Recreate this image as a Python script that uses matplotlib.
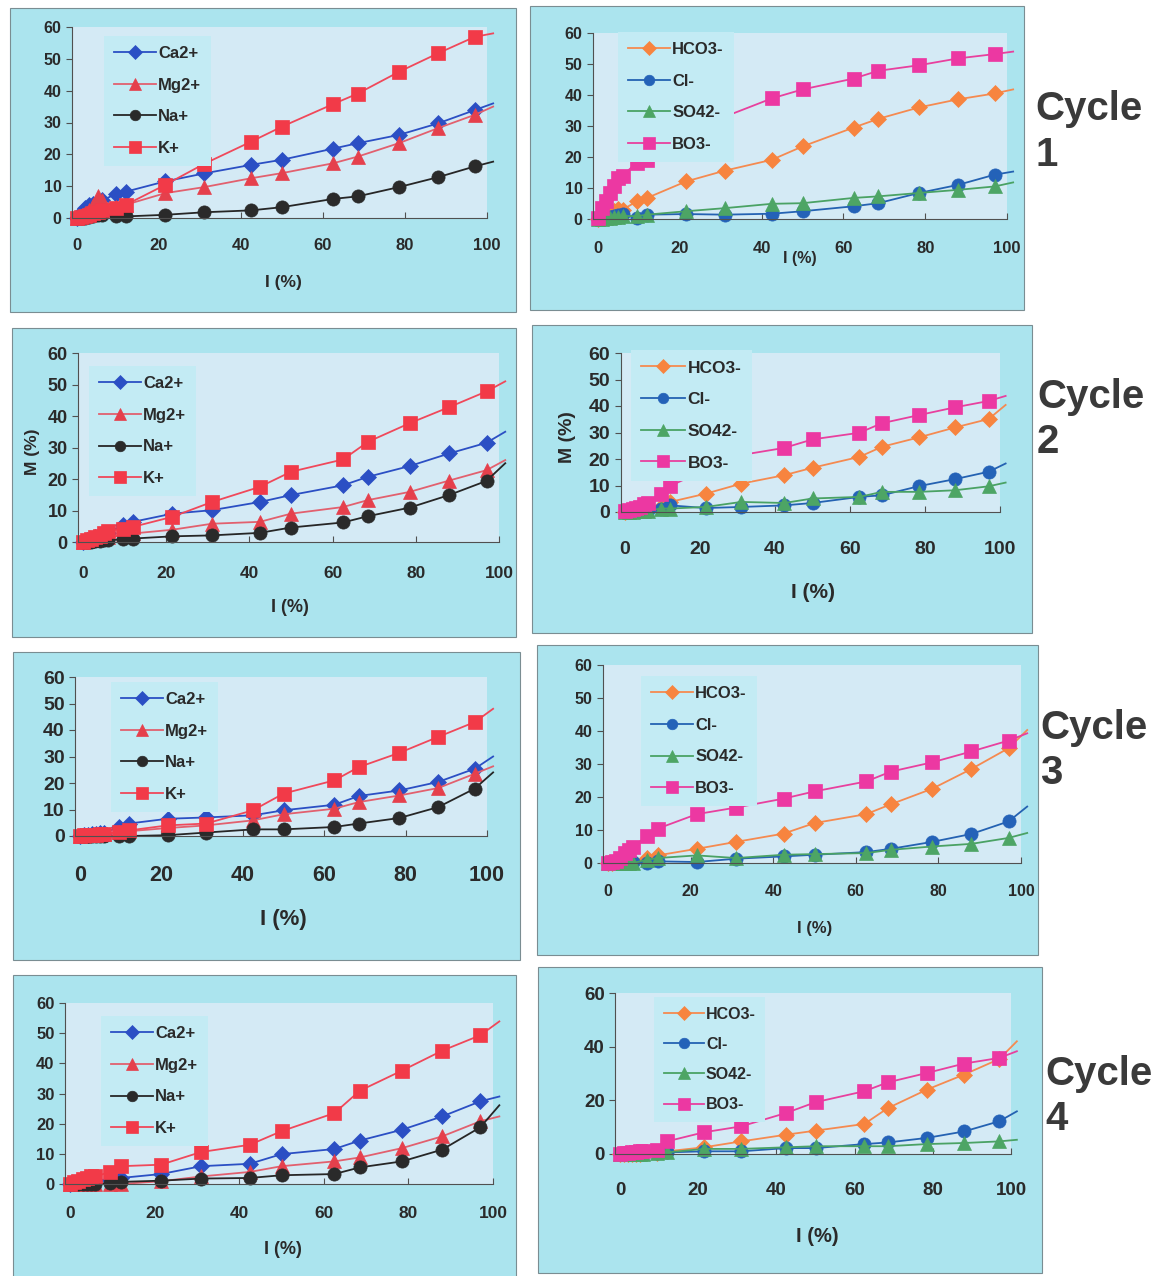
import matplotlib
matplotlib.use("Agg")
import matplotlib.pyplot as plt
from matplotlib.patches import Rectangle

plt.rcParams['font.family'] = ['Liberation Sans', 'DejaVu Sans']

W, H = 1161, 1276

# sampling points of I (%) (last value only continues the line, no marker)
I_pct = [0, 1, 2, 3, 4, 5, 6, 9.5, 12, 21.5, 31, 42.5, 50, 62.5, 68.5, 78.5, 88, 97, 101.5]

cation_names = ["Ca2+", "Mg2+", "Na+", "K+"]
anion_names = ["HCO3-", "Cl-", "SO42-", "BO3-"]

# ---- Cycle 1 ----
c1_ca = [0, 1.5, 3, 4, 4.5, 5, 5.5, 7.5, 8.3, 11.5, 14.0, 16.7, 18.3, 21.8, 23.5, 26.1, 29.7, 33.9, 36.0]
c1_mg = [0, 0.5, 1.5, 2.5, 4, 7, 5.5, 3.5, 4.2, 7.8, 9.7, 12.5, 14.1, 17.2, 19.3, 23.5, 28.2, 32.4, 35.0]
c1_na = [0, 0, 0, 0.3, 0.5, 0.8, 1, 0.5, 0.5, 1.0, 1.8, 2.4, 3.4, 6.0, 6.8, 9.7, 12.8, 16.2, 17.7]
c1_k = [0, 0.3, 0.6, 1, 1.5, 2, 2.5, 3.1, 4.2, 10.4, 17.0, 24.0, 28.7, 35.8, 39.1, 45.9, 51.7, 56.9, 58.0]
c1_hco3 = [0, 0.5, 1, 2, 2.5, 3.2, 3, 5.7, 6.8, 12.1, 15.6, 19.1, 23.4, 29.5, 32.3, 36.0, 38.6, 40.5, 41.8]
c1_cl = [0, 0.3, 0.5, 0.8, 1, 1.2, 1.5, 0.3, 1.4, 1.6, 1.4, 1.7, 2.5, 4.1, 5.1, 8.4, 11.0, 14.3, 15.3]
c1_so4 = [0, 0, 0.2, 0.4, 0.5, 0.8, 1, 0.9, 1.4, 2.5, 3.5, 4.9, 5.1, 6.8, 7.3, 8.4, 9.4, 10.5, 11.8]
c1_bo3 = [0.3, 3.5, 5.7, 8.4, 10.6, 13.2, 14, 18.2, 19, 27, 33.0, 38.9, 41.8, 45.3, 47.8, 49.6, 51.8, 53.2, 54.0]

# ---- Cycle 2 ----
c2_ca = [0, 0.5, 1, 1.5, 2, 2.5, 3, 5.3, 6.4, 9.0, 10.1, 12.7, 14.9, 18.0, 20.7, 24.1, 28.1, 31.5, 35.0]
c2_mg = [0, 0.2, 0.5, 0.8, 1, 1.3, 1.5, 2.1, 2.7, 3.9, 5.8, 6.4, 9.0, 11.1, 13.3, 15.9, 19.5, 22.8, 26.0]
c2_na = [0, 0, 0, 0.2, 0.3, 0.5, 0.6, 0.8, 1.1, 1.8, 2.1, 2.9, 4.6, 6.2, 8.2, 10.9, 14.9, 19.4, 25.0]
c2_k = [0, 0.5, 1, 1.5, 2, 2.7, 3.5, 4.2, 4.8, 8.0, 12.7, 17.5, 22.3, 26.2, 31.8, 37.7, 42.8, 47.8, 51.0]
c2_hco3 = [0, 0.2, 0.4, 0.6, 0.8, 1, 1.2, 2, 3.8, 6.9, 10.7, 13.9, 16.7, 20.8, 24.6, 28.2, 31.9, 35.1, 40.4]
c2_cl = [0, 0, 0.2, 0.3, 0.4, 0.5, 0.6, 1.3, 2.5, 1.5, 1.9, 2.5, 3.4, 5.7, 6.3, 9.8, 12.4, 15.2, 18.3]
c2_so4 = [0, 0, 0.1, 0.2, 0.3, 0.4, 0.5, 1.3, 1.3, 1.9, 3.8, 3.4, 5.1, 5.7, 7.6, 7.6, 8.2, 9.7, 11.1]
c2_bo3 = [0.5, 0.8, 1, 1.5, 2, 3.2, 3.5, 6.9, 9.8, 16, 21.5, 24.2, 27.4, 29.9, 33.5, 36.6, 39.5, 41.9, 43.8]

# ---- Cycle 3 ----
c3_ca = [0, 0.2, 0.4, 0.6, 0.8, 1, 1.2, 3.4, 4.7, 6.5, 7.0, 7.8, 9.7, 11.8, 15.1, 17.2, 20.4, 25.4, 30.0]
c3_mg = [0, 0.1, 0.2, 0.3, 0.4, 0.5, 0.6, 1.5, 1.8, 3.0, 4.0, 5.9, 8.2, 10.3, 12.8, 15.3, 18.1, 23.5, 26.3]
c3_na = [0, 0, 0, 0, 0, 0, 0, 0, 0, 0.3, 1.3, 2.5, 2.5, 3.4, 4.7, 6.8, 10.9, 17.9, 24.0]
c3_k = [0, 0.2, 0.3, 0.4, 0.5, 0.6, 0.7, 1.5, 2.1, 4.0, 4.7, 9.7, 16.0, 21.0, 26.0, 31.4, 37.4, 43.0, 48.0]
c3_hco3 = [0, 0.1, 0.2, 0.3, 0.4, 0.5, 0.6, 1.5, 2.3, 4.3, 6.4, 8.9, 12.1, 14.8, 17.8, 22.5, 28.5, 34.8, 40.3]
c3_cl = [0, 0, 0, 0, 0, 0.2, 0.3, 0, 0.5, 0.3, 1.3, 2.0, 2.5, 3.3, 4.3, 6.4, 8.8, 12.6, 17.1]
c3_so4 = [0, 0, 0, 0, 0, 0, 0, 1.0, 1.5, 2.3, 1.5, 2.5, 2.7, 3.0, 4.0, 5.0, 5.8, 7.6, 9.1]
c3_bo3 = [0, 0.3, 0.6, 1.5, 3.0, 4.0, 5.0, 8.1, 10.4, 14.8, 16.8, 19.5, 21.7, 24.7, 27.7, 30.5, 33.8, 37.1, 39.3]

# ---- Cycle 4 ----
c4_ca = [0, 0.2, 0.4, 0.6, 0.8, 1, 1.2, 1.4, 2.0, 3.3, 5.9, 6.7, 9.9, 11.6, 14.4, 18.0, 22.4, 27.4, 29.0]
c4_mg = [0, 0, 0, 0, 0, 0, 0, 0, 0, 0.9, 2.5, 4.0, 5.9, 7.5, 8.8, 11.9, 15.8, 20.8, 22.4]
c4_na = [0, 0, 0, 0, 0, 0, 0, 0.3, 0.7, 1.1, 1.8, 2.0, 2.9, 3.3, 5.5, 7.5, 11.4, 18.8, 26.1]
c4_k = [0, 0.5, 1, 1.5, 2, 2.5, 2.5, 4.0, 5.9, 6.4, 10.6, 13.0, 17.5, 23.5, 30.9, 37.6, 44.2, 49.3, 53.9]
c4_hco3 = [0, 0, 0, 0, 0, 0, 0.2, 0.5, 1.0, 2.5, 4.7, 7.2, 8.7, 11.2, 17.1, 24.0, 29.6, 35.4, 42.0]
c4_cl = [0, 0, 0, 0, 0, 0, 0, 0.3, 0.6, 1.0, 1.0, 2.2, 2.2, 3.7, 4.3, 6.0, 8.4, 12.2, 15.9]
c4_so4 = [0, 0, 0, 0, 0, 0, 0, 0.3, 0.6, 1.9, 1.9, 2.5, 2.9, 2.9, 2.9, 3.7, 4.1, 4.7, 5.3]
c4_bo3 = [0, 0.2, 0.4, 0.6, 0.8, 1.0, 1.2, 1.6, 4.7, 8.1, 10.3, 15.3, 19.3, 23.4, 26.7, 30.2, 33.7, 35.8, 38.3]

cycle_labels = ["Cycle\n1", "Cycle\n2", "Cycle\n3", "Cycle\n4"]

# marker / colour style per ion
cation_style = [
    dict(marker='D', color='#2b4fc4', mfc='#2b4fc4', ms=8.5),
    dict(marker='^', color='#e2606e', mfc='#e5404c', ms=10),
    dict(marker='o', color='#262626', mfc='#2a2a2a', ms=9.5),
    dict(marker='s', color='#f0485a', mfc='#f23a48', ms=10),
]
anion_style = [
    dict(marker='D', color='#f58a50', mfc='#f7843f', ms=8.5),
    dict(marker='o', color='#2462b2', mfc='#2462b8', ms=9.5),
    dict(marker='^', color='#4aa264', mfc='#4da565', ms=10),
    dict(marker='s', color='#e8409e', mfc='#ec38a2', ms=10),
]

OUTER = '#abe4ee'
PLOT_BG = '#d4eaf5'
LEG_BG = '#c3ebf4'
TXT = '#2a2a2a'

# panel geometry in pixels: frame box, data-axis pixels, font sizes, legend anchor
panels = [
    dict(frame=(10, 8, 516, 312), x0=77, x100=487, y0=218, y60=27,
         names=cation_names, style=cation_style, data=[c1_ca, c1_mg, c1_na, c1_k],
         tfs=11.5, xtfs=12, lfs=12, xl=dict(x=283, y=283, fs=12.5), yl=None,
         leg=(104, 36), ls=1.0, yt=[0, 10, 20, 30, 40, 50, 60], xpad=14.5),
    dict(frame=(530, 6, 1024, 310), x0=598, x100=1007, y0=219, y60=33,
         names=anion_names, style=anion_style, data=[c1_hco3, c1_cl, c1_so4, c1_bo3],
         tfs=11.5, xtfs=12, lfs=12, xl=dict(x=800, y=259, fs=11.5), yl=None,
         leg=(618, 32), ls=1.0, yt=[0, 10, 20, 30, 40, 50, 60], xpad=16),
    dict(frame=(12, 328, 516, 637), x0=83, x100=499, y0=542, y60=353,
         names=cation_names, style=cation_style, data=[c2_ca, c2_mg, c2_na, c2_k],
         tfs=13, xtfs=12.5, lfs=12, xl=dict(x=290, y=608, fs=13), yl=dict(x=33, y=452, fs=12.5),
         leg=(89, 366), ls=1.0, yt=[0, 10, 20, 30, 40, 50, 60], xpad=17),
    dict(frame=(532, 325, 1032, 633), x0=625, x100=1000, y0=512, y60=353,
         names=anion_names, style=anion_style, data=[c2_hco3, c2_cl, c2_so4, c2_bo3],
         tfs=14, xtfs=14, lfs=12.5, xl=dict(x=813, y=593, fs=15), yl=dict(x=568, y=437, fs=14),
         leg=(631, 350), ls=0.95, yt=[0, 10, 20, 30, 40, 50, 60], xpad=21),
    dict(frame=(13, 652, 520, 960), x0=80, x100=487, y0=836, y60=677,
         names=cation_names, style=cation_style, data=[c3_ca, c3_mg, c3_na, c3_k],
         tfs=14, xtfs=15.5, lfs=12, xl=dict(x=283, y=920, fs=16), yl=None,
         leg=(111, 682), ls=1.0, yt=[0, 10, 20, 30, 40, 50, 60], xpad=21),
    dict(frame=(537, 645, 1038, 955), x0=608, x100=1021, y0=863, y60=665,
         names=anion_names, style=anion_style, data=[c3_hco3, c3_cl, c3_so4, c3_bo3],
         tfs=11.5, xtfs=11.5, lfs=12, xl=dict(x=815, y=928, fs=12), yl=None,
         leg=(641, 676), ls=1.0, yt=[0, 10, 20, 30, 40, 50, 60], xpad=15),
    dict(frame=(13, 975, 516, 1290), x0=70, x100=493, y0=1184, y60=1003,
         names=cation_names, style=cation_style, data=[c4_ca, c4_mg, c4_na, c4_k],
         tfs=12, xtfs=12.5, lfs=12, xl=dict(x=283, y=1250, fs=13), yl=None,
         leg=(101, 1016), ls=1.0, yt=[0, 10, 20, 30, 40, 50, 60], xpad=15.5),
    dict(frame=(538, 967, 1042, 1273), x0=620, x100=1011, y0=1154, y60=993,
         names=anion_names, style=anion_style, data=[c4_hco3, c4_cl, c4_so4, c4_bo3],
         tfs=13.5, xtfs=13.5, lfs=11.5, xl=dict(x=817, y=1237, fs=14.5), yl=None,
         leg=(654, 997), ls=0.95, yt=[0, 20, 40, 60], xpad=20),
]

cycle_pos = [(1035, 90), (1037, 378), (1040, 709), (1045, 1055)]

fig = plt.figure(figsize=(W / 100, H / 100), dpi=100)
fig.patch.set_facecolor('white')


def fx(px):
    return px / W


def fy(py):
    return 1 - py / H


XMIN = -1.2
for p in panels:
    x1, y1, x2, y2 = p['frame']
    fig.patches.append(Rectangle((fx(x1), fy(y2)), fx(x2 - x1), (y2 - y1) / H,
                                 transform=fig.transFigure, facecolor=OUTER,
                                 edgecolor='#7a8d92', linewidth=0.8, zorder=-5))
    sx = (p['x100'] - p['x0']) / 100.0
    left = p['x0'] + XMIN * sx
    ax = fig.add_axes([fx(left), fy(p['y0']), fx(p['x100'] - left), (p['y0'] - p['y60']) / H])
    ax.set_zorder(2)
    ax.set_facecolor(PLOT_BG)
    ax.set_xlim(XMIN, 100)
    ax.set_ylim(0, 60)
    for s in ('top', 'right'):
        ax.spines[s].set_visible(False)
    for s in ('left', 'bottom'):
        ax.spines[s].set_color('#505050')
        ax.spines[s].set_linewidth(0.8)
    ax.set_xticks([0, 20, 40, 60, 80, 100])
    ax.set_yticks(p['yt'])
    ax.tick_params(axis='y', direction='out', length=4, width=0.8, color='#505050',
                   labelsize=p['tfs'], labelcolor=TXT, pad=3.5)
    ax.tick_params(axis='x', direction='in', length=4, width=0.8, color='#505050',
                   labelsize=p['xtfs'], labelcolor=TXT, pad=p['xpad'])
    for lab in ax.get_xticklabels() + ax.get_yticklabels():
        lab.set_fontweight('bold')

    handles = []
    for name, st, vals in zip(p['names'], p['style'], p['data']):
        n = len(vals)
        h, = ax.plot(I_pct, vals, color=st['color'], lw=1.3, marker=st['marker'],
                     ms=st['ms'], mfc=st['mfc'], mec=st['mfc'], mew=0.5,
                     markevery=list(range(n - 1)), clip_on=False, label=name)
        handles.append(h)

    leg = ax.legend(handles=handles, loc='upper left',
                    bbox_to_anchor=(fx(p['leg'][0]), fy(p['leg'][1])),
                    bbox_transform=fig.transFigure, borderaxespad=0,
                    frameon=True, fancybox=False, framealpha=1,
                    facecolor=LEG_BG, edgecolor='none', fontsize=p['lfs'],
                    handlelength=2.5, handletextpad=0.15, labelspacing=p['ls'],
                    markerscale=0.8, borderpad=0.6)
    for t in leg.get_texts():
        t.set_fontweight('bold')
        t.set_color(TXT)

    xl = p['xl']
    fig.text(fx(xl['x']), fy(xl['y']), "I (%)", ha='center', va='center',
             fontsize=xl['fs'], fontweight='bold', color=TXT, zorder=5)
    if p['yl'] is not None:
        yl = p['yl']
        fig.text(fx(yl['x']), fy(yl['y']), "M (%)", ha='center', va='center',
                 rotation=90, fontsize=yl['fs'], fontweight='bold', color=TXT, zorder=5)

for (cx, cy), lab in zip(cycle_pos, cycle_labels):
    fig.text(fx(cx), fy(cy), lab, ha='left', va='top', fontsize=29,
             fontweight='bold', color='#3a3a3a', linespacing=1.25)

fig.savefig("out.png", dpi=100, facecolor='white')
